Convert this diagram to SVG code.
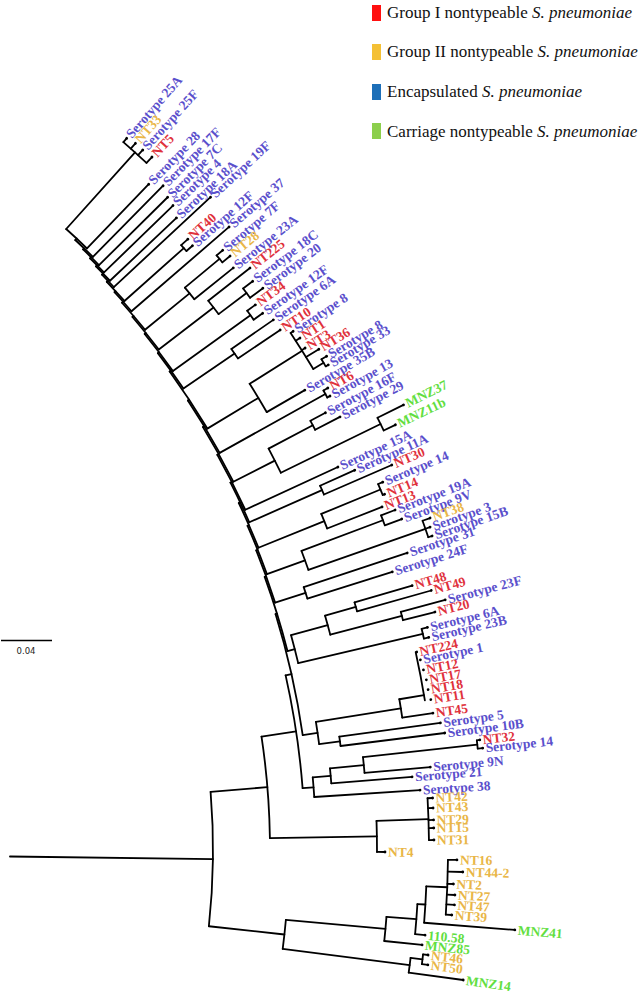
<svg xmlns="http://www.w3.org/2000/svg" width="640" height="993" viewBox="0 0 640 993">
<style>
.leg{font-family:"Liberation Serif","Times New Roman",serif;font-size:17px;fill:#111}
.tips text{font-family:"Liberation Serif","Times New Roman",serif;font-weight:bold;font-size:13.5px}
.tips circle{fill:#000}
.B{fill:#5a4fcc}.R{fill:#e0313c}.Y{fill:#e9b647}.G{fill:#62de40}
</style>
<rect width="640" height="993" fill="#fff"/>
<g id="legend">
<rect x="372" y="5" width="9" height="16" fill="#ff1010"/>
<text class="leg" x="387" y="18">Group I nontypeable <tspan font-style="italic">S. pneumoniae</tspan></text>
<rect x="372" y="44" width="9" height="16" fill="#f4c035"/>
<text class="leg" x="387" y="57">Group II nontypeable <tspan font-style="italic">S. pneumoniae</tspan></text>
<rect x="372" y="84" width="9" height="16" fill="#1d6fb8"/>
<text class="leg" x="387" y="97">Encapsulated <tspan font-style="italic">S. pneumoniae</tspan></text>
<rect x="372" y="123" width="9" height="16" fill="#8ccf4c"/>
<text class="leg" x="387" y="137">Carriage nontypeable <tspan font-style="italic">S. pneumoniae</tspan></text>
</g>
<g id="scale">
<line x1="1" y1="640.5" x2="52" y2="640.5" stroke="#000" stroke-width="1.6"/>
<text x="26" y="654" text-anchor="middle" font-family="DejaVu Sans,sans-serif" font-size="8.5" fill="#222">0.04</text>
</g>
<g transform="translate(-492,850)">
<g id="connectors" fill="none" stroke="#000" stroke-width="1.8" stroke-linecap="round">
<path d="M502 0H705" transform="rotate(0.74)"/>
<circle r="705" stroke-dasharray="134.6 9999" transform="rotate(-4.73)"/>
<path d="M705 0H762" transform="rotate(-4.73)"/>
<circle r="762" stroke-dasharray="101.9 9999" transform="rotate(-8.56)"/>
<path d="M705 0H781" transform="rotate(6.21)"/>
<circle r="781" stroke-dasharray="29.2 9999" transform="rotate(5.14)"/>
<path d="M781 0H881" transform="rotate(5.14)"/>
<circle r="881" stroke-dasharray="24.3 9999" transform="rotate(4.35)"/>
<path d="M881 0H911" transform="rotate(4.35)"/>
<circle r="911" stroke-dasharray="30.2 9999" transform="rotate(3.4)"/>
<path d="M911 0H919" transform="rotate(3.4)"/>
<circle r="919" stroke-dasharray="36.4 9999" transform="rotate(2.27)"/>
<path d="M919 0H940" transform="rotate(2.27)"/>
<circle r="940" stroke-dasharray="54.8 9999" transform="rotate(0.6)"/>
<path d="M940 0H949" transform="rotate(0.6)"/>
<path d="M940 0H955" transform="rotate(1.32)"/>
<path d="M940 0H946" transform="rotate(2.06)"/>
<path d="M940 0H948" transform="rotate(2.72)"/>
<path d="M940 0H948" transform="rotate(3.32)"/>
<path d="M940 0H946" transform="rotate(3.94)"/>
<path d="M919 0H1010" transform="rotate(4.54)"/>
<path d="M911 0H921" transform="rotate(5.3)"/>
<path d="M881 0H919" transform="rotate(5.93)"/>
<path d="M781 0H909" transform="rotate(7.28)"/>
<circle r="909" stroke-dasharray="14.8 9999" transform="rotate(6.82)"/>
<path d="M909 0H921" transform="rotate(6.82)"/>
<circle r="921" stroke-dasharray="9.8 9999" transform="rotate(6.51)"/>
<path d="M921 0H926" transform="rotate(6.51)"/>
<path d="M921 0H927" transform="rotate(7.12)"/>
<path d="M909 0H964" transform="rotate(7.75)"/>
<path d="M762 0H869" transform="rotate(-0.9)"/>
<circle r="869" stroke-dasharray="31.1 9999" transform="rotate(-1.92)"/>
<path d="M869 0H921" transform="rotate(-1.92)"/>
<circle r="921" stroke-dasharray="41.8 9999" transform="rotate(-3.22)"/>
<path d="M921 0H926" transform="rotate(-3.22)"/>
<path d="M921 0H926" transform="rotate(-2.6)"/>
<path d="M921 0H926" transform="rotate(-1.86)"/>
<path d="M921 0H926" transform="rotate(-1.36)"/>
<path d="M921 0H926" transform="rotate(-0.62)"/>
<path d="M869 0H877" transform="rotate(0.13)"/>
<path d="M762 0H797" transform="rotate(-8.56)"/>
<circle r="797" stroke-dasharray="114.2 9999" transform="rotate(-12.66)"/>
<path d="M797 0H808" transform="rotate(-4.45)"/>
<circle r="808" stroke-dasharray="19.6 9999" transform="rotate(-5.15)"/>
<path d="M808 0H826" transform="rotate(-5.15)"/>
<circle r="826" stroke-dasharray="15.1 9999" transform="rotate(-5.67)"/>
<path d="M826 0H860" transform="rotate(-5.67)"/>
<circle r="860" stroke-dasharray="15.9 9999" transform="rotate(-6.2)"/>
<path d="M860 0H975" transform="rotate(-6.2)"/>
<circle r="975" stroke-dasharray="8.3 9999" transform="rotate(-6.46)"/>
<path d="M975 0H978" transform="rotate(-6.46)"/>
<path d="M975 0H980" transform="rotate(-5.97)"/>
<path d="M860 0H926" transform="rotate(-5.14)"/>
<path d="M826 0H907" transform="rotate(-4.62)"/>
<path d="M808 0H914" transform="rotate(-3.76)"/>
<path d="M797 0H803" transform="rotate(-12.66)"/>
<circle r="803" stroke-dasharray="124.2 9999" transform="rotate(-17.09)"/>
<path d="M803 0H818" transform="rotate(-8.23)"/>
<circle r="818" stroke-dasharray="22.4 9999" transform="rotate(-9.01)"/>
<path d="M818 0H904" transform="rotate(-9.01)"/>
<circle r="904" stroke-dasharray="18.6 9999" transform="rotate(-9.6)"/>
<path d="M904 0H929" transform="rotate(-9.6)"/>
<circle r="929" stroke-dasharray="49.1 9999" transform="rotate(-12.29)"/>
<path d="M904 0H935" transform="rotate(-8.42)"/>
<path d="M818 0H839" transform="rotate(-7.44)"/>
<circle r="839" stroke-dasharray="9.4 9999" transform="rotate(-7.76)"/>
<path d="M839 0H941" transform="rotate(-7.76)"/>
<path d="M839 0H944" transform="rotate(-7.12)"/>
<path d="M803 0H804.5" transform="rotate(-17.09)"/>
<circle r="804.5" stroke-dasharray="77.6 9999" transform="rotate(-19.85)"/>
<path d="M804.5 0H812" transform="rotate(-14.32)"/>
<circle r="812" stroke-dasharray="28.9 9999" transform="rotate(-15.34)"/>
<path d="M812 0H850" transform="rotate(-15.34)"/>
<circle r="850" stroke-dasharray="19.7 9999" transform="rotate(-16)"/>
<path d="M850 0H882" transform="rotate(-16)"/>
<circle r="882" stroke-dasharray="9.2 9999" transform="rotate(-16.3)"/>
<path d="M882 0H942" transform="rotate(-16.3)"/>
<path d="M882 0H959" transform="rotate(-15.7)"/>
<path d="M850 0H924" transform="rotate(-14.67)"/>
<circle r="924" stroke-dasharray="8.7 9999" transform="rotate(-14.94)"/>
<path d="M924 0H970" transform="rotate(-14.94)"/>
<path d="M924 0H957" transform="rotate(-14.4)"/>
<path d="M812 0H940" transform="rotate(-13.3)"/>
<circle r="940" stroke-dasharray="10 9999" transform="rotate(-13.61)"/>
<path d="M940 0H946" transform="rotate(-13.61)"/>
<path d="M940 0H945" transform="rotate(-13)"/>
<path d="M804.5 0H806" transform="rotate(-19.85)"/>
<circle r="806" stroke-dasharray="55.6 9999" transform="rotate(-21.82)"/>
<path d="M806 0H838" transform="rotate(-17.87)"/>
<circle r="838" stroke-dasharray="12 9999" transform="rotate(-18.28)"/>
<path d="M838 0H947" transform="rotate(-18.28)"/>
<path d="M838 0H927" transform="rotate(-17.46)"/>
<path d="M806 0H807.5" transform="rotate(-21.82)"/>
<circle r="807.5" stroke-dasharray="52.1 9999" transform="rotate(-23.67)"/>
<path d="M807.5 0H848" transform="rotate(-19.97)"/>
<circle r="848" stroke-dasharray="20.1 9999" transform="rotate(-20.65)"/>
<path d="M848 0H935" transform="rotate(-20.65)"/>
<circle r="935" stroke-dasharray="10.6 9999" transform="rotate(-20.97)"/>
<path d="M935 0H950" transform="rotate(-20.97)"/>
<path d="M935 0H953" transform="rotate(-20.32)"/>
<path d="M848 0H972" transform="rotate(-19.29)"/>
<circle r="972" stroke-dasharray="17.5 9999" transform="rotate(-19.8)"/>
<path d="M972 0H980" transform="rotate(-19.8)"/>
<path d="M972 0H977" transform="rotate(-19.3)"/>
<path d="M972 0H976" transform="rotate(-18.77)"/>
<path d="M807.5 0H809" transform="rotate(-23.67)"/>
<circle r="809" stroke-dasharray="48.9 9999" transform="rotate(-25.4)"/>
<path d="M809 0H880" transform="rotate(-21.94)"/>
<circle r="880" stroke-dasharray="15.7 9999" transform="rotate(-22.45)"/>
<path d="M880 0H944" transform="rotate(-22.45)"/>
<circle r="944" stroke-dasharray="11.9 9999" transform="rotate(-22.81)"/>
<path d="M944 0H949" transform="rotate(-22.81)"/>
<path d="M944 0H946" transform="rotate(-22.09)"/>
<path d="M880 0H939" transform="rotate(-21.43)"/>
<path d="M809 0H810.5" transform="rotate(-25.4)"/>
<circle r="810.5" stroke-dasharray="43.9 9999" transform="rotate(-26.95)"/>
<path d="M810.5 0H890" transform="rotate(-23.85)"/>
<circle r="890" stroke-dasharray="9.6 9999" transform="rotate(-24.16)"/>
<path d="M890 0H928" transform="rotate(-24.16)"/>
<path d="M890 0H964" transform="rotate(-23.54)"/>
<path d="M810.5 0H812" transform="rotate(-26.95)"/>
<circle r="812" stroke-dasharray="61.6 9999" transform="rotate(-29.12)"/>
<path d="M812 0H914" transform="rotate(-24.77)"/>
<path d="M812 0H813.5" transform="rotate(-29.12)"/>
<circle r="813.5" stroke-dasharray="62.5 9999" transform="rotate(-31.32)"/>
<path d="M813.5 0H860" transform="rotate(-26.92)"/>
<circle r="860" stroke-dasharray="27 9999" transform="rotate(-27.82)"/>
<path d="M860 0H910" transform="rotate(-27.82)"/>
<circle r="910" stroke-dasharray="10.2 9999" transform="rotate(-28.14)"/>
<path d="M910 0H927" transform="rotate(-28.14)"/>
<path d="M910 0H938" transform="rotate(-27.5)"/>
<path d="M860 0H971" transform="rotate(-26.02)"/>
<circle r="971" stroke-dasharray="14.1 9999" transform="rotate(-26.43)"/>
<path d="M971 0H1000" transform="rotate(-26.43)"/>
<path d="M971 0H984" transform="rotate(-25.6)"/>
<path d="M813.5 0H815" transform="rotate(-31.32)"/>
<circle r="815" stroke-dasharray="61.3 9999" transform="rotate(-33.47)"/>
<path d="M815 0H936" transform="rotate(-29.16)"/>
<circle r="936" stroke-dasharray="8 9999" transform="rotate(-29.4)"/>
<path d="M936 0H941" transform="rotate(-29.4)"/>
<path d="M936 0H939" transform="rotate(-28.91)"/>
<path d="M815 0H816.5" transform="rotate(-33.47)"/>
<circle r="816.5" stroke-dasharray="68.4 9999" transform="rotate(-35.87)"/>
<path d="M816.5 0H876" transform="rotate(-31.07)"/>
<circle r="876" stroke-dasharray="33 9999" transform="rotate(-32.15)"/>
<path d="M876 0H938" transform="rotate(-32.15)"/>
<circle r="938" stroke-dasharray="42.6 9999" transform="rotate(-33.45)"/>
<path d="M938 0H941" transform="rotate(-33.45)"/>
<path d="M938 0H943" transform="rotate(-32.88)"/>
<path d="M938 0H942" transform="rotate(-32.2)"/>
<path d="M938 0H953" transform="rotate(-31.7)"/>
<path d="M938 0H950" transform="rotate(-30.85)"/>
<circle r="950" stroke-dasharray="8.3 9999" transform="rotate(-31.1)"/>
<path d="M950 0H956" transform="rotate(-31.1)"/>
<path d="M950 0H953" transform="rotate(-30.6)"/>
<path d="M876 0H920" transform="rotate(-29.99)"/>
<path d="M816.5 0H818" transform="rotate(-35.87)"/>
<circle r="818" stroke-dasharray="43.7 9999" transform="rotate(-37.4)"/>
<path d="M818 0H880" transform="rotate(-34.34)"/>
<circle r="880" stroke-dasharray="11.5 9999" transform="rotate(-34.71)"/>
<path d="M880 0H931" transform="rotate(-34.71)"/>
<path d="M880 0H931" transform="rotate(-33.96)"/>
<path d="M818 0H819.5" transform="rotate(-37.4)"/>
<circle r="819.5" stroke-dasharray="46.5 9999" transform="rotate(-39.02)"/>
<path d="M819.5 0H915" transform="rotate(-35.77)"/>
<circle r="915" stroke-dasharray="11 9999" transform="rotate(-36.11)"/>
<path d="M915 0H925" transform="rotate(-36.11)"/>
<path d="M915 0H926" transform="rotate(-35.42)"/>
<path d="M819.5 0H821" transform="rotate(-39.02)"/>
<circle r="821" stroke-dasharray="41.8 9999" transform="rotate(-40.48)"/>
<path d="M821 0H890" transform="rotate(-37.56)"/>
<circle r="890" stroke-dasharray="16.9 9999" transform="rotate(-38.11)"/>
<path d="M890 0H943" transform="rotate(-38.11)"/>
<path d="M890 0H925" transform="rotate(-37.02)"/>
<circle r="925" stroke-dasharray="11.5 9999" transform="rotate(-37.37)"/>
<path d="M925 0H937" transform="rotate(-37.37)"/>
<path d="M925 0H941" transform="rotate(-36.66)"/>
<path d="M821 0H822.5" transform="rotate(-40.48)"/>
<circle r="822.5" stroke-dasharray="35.5 9999" transform="rotate(-41.71)"/>
<path d="M822.5 0H880" transform="rotate(-39.24)"/>
<circle r="880" stroke-dasharray="14.9 9999" transform="rotate(-39.72)"/>
<path d="M880 0H925" transform="rotate(-39.72)"/>
<circle r="925" stroke-dasharray="9 9999" transform="rotate(-40)"/>
<path d="M925 0H933" transform="rotate(-40)"/>
<path d="M925 0H935" transform="rotate(-39.44)"/>
<path d="M880 0H930" transform="rotate(-38.75)"/>
<path d="M822.5 0H824" transform="rotate(-41.71)"/>
<circle r="824" stroke-dasharray="25.5 9999" transform="rotate(-42.6)"/>
<path d="M824 0H953" transform="rotate(-40.83)"/>
<path d="M824 0H825.5" transform="rotate(-42.6)"/>
<circle r="825.5" stroke-dasharray="26.1 9999" transform="rotate(-43.5)"/>
<path d="M825.5 0H905" transform="rotate(-41.69)"/>
<circle r="905" stroke-dasharray="7.9 9999" transform="rotate(-41.94)"/>
<path d="M905 0H914" transform="rotate(-41.94)"/>
<path d="M905 0H913" transform="rotate(-41.44)"/>
<path d="M825.5 0H827" transform="rotate(-43.5)"/>
<circle r="827" stroke-dasharray="17.2 9999" transform="rotate(-44.09)"/>
<path d="M827 0H959" transform="rotate(-42.9)"/>
<path d="M827 0H828.5" transform="rotate(-44.09)"/>
<circle r="828.5" stroke-dasharray="20.1 9999" transform="rotate(-44.79)"/>
<path d="M828.5 0H920" transform="rotate(-43.4)"/>
<path d="M828.5 0H830" transform="rotate(-44.79)"/>
<circle r="830" stroke-dasharray="19.8 9999" transform="rotate(-45.47)"/>
<path d="M830 0H926" transform="rotate(-44.1)"/>
<path d="M830 0H831.5" transform="rotate(-45.47)"/>
<circle r="831.5" stroke-dasharray="22.3 9999" transform="rotate(-46.24)"/>
<path d="M831.5 0H928" transform="rotate(-44.7)"/>
<path d="M831.5 0H833" transform="rotate(-46.24)"/>
<circle r="833" stroke-dasharray="24.4 9999" transform="rotate(-47.08)"/>
<path d="M833 0H933" transform="rotate(-45.4)"/>
<path d="M833 0H835" transform="rotate(-47.08)"/>
<circle r="835" stroke-dasharray="28.4 9999" transform="rotate(-48.05)"/>
<path d="M835 0H938" transform="rotate(-48.05)"/>
<circle r="938" stroke-dasharray="31.1 9999" transform="rotate(-49)"/>
<path d="M938 0H943" transform="rotate(-49)"/>
<path d="M938 0H945" transform="rotate(-48.4)"/>
<path d="M938 0H945" transform="rotate(-47.8)"/>
<path d="M938 0H946" transform="rotate(-47.1)"/>
<path d="M835 0H924" transform="rotate(-46.1)"/>
</g>
<g class="tips">
<g id="t01" transform="rotate(-49)"><circle cx="943" r="1.4"/><text x="946" y="4.6" class="B">Serotype 25A</text></g>
<g id="t02" transform="rotate(-48.4)"><circle cx="945" r="1.4"/><text x="948" y="4.6" class="Y">NT33</text></g>
<g id="t03" transform="rotate(-47.8)"><circle cx="945" r="1.4"/><text x="948" y="4.6" class="B">Serotype 25F</text></g>
<g id="t04" transform="rotate(-47.1)"><circle cx="946" r="1.4"/><text x="949" y="4.6" class="R">NT5</text></g>
<g id="t05" transform="rotate(-46.1)"><circle cx="924" r="1.4"/><text x="927" y="4.6" class="B">Serotype 28</text></g>
<g id="t06" transform="rotate(-45.4)"><circle cx="933" r="1.4"/><text x="936" y="4.6" class="B">Serotype 17F</text></g>
<g id="t07" transform="rotate(-44.7)"><circle cx="928" r="1.4"/><text x="931" y="4.6" class="B">Serotype 7C</text></g>
<g id="t08" transform="rotate(-44.1)"><circle cx="926" r="1.4"/><text x="929" y="4.6" class="B">Serotype 4</text></g>
<g id="t09" transform="rotate(-43.4)"><circle cx="920" r="1.4"/><text x="923" y="4.6" class="B">Serotype 18A</text></g>
<g id="t10" transform="rotate(-42.9)"><circle cx="959" r="1.4"/><text x="962" y="4.6" class="B">Serotype 19F</text></g>
<g id="t11" transform="rotate(-41.94)"><circle cx="914" r="1.4"/><text x="917" y="4.6" class="R">NT40</text></g>
<g id="t12" transform="rotate(-41.44)"><circle cx="913" r="1.4"/><text x="916" y="4.6" class="B">Serotype 12F</text></g>
<g id="t13" transform="rotate(-40.83)"><circle cx="953" r="1.4"/><text x="956" y="4.6" class="B">Serotype 37</text></g>
<g id="t14" transform="rotate(-40)"><circle cx="933" r="1.4"/><text x="936" y="4.6" class="B">Serotype 7F</text></g>
<g id="t15" transform="rotate(-39.44)"><circle cx="935" r="1.4"/><text x="938" y="4.6" class="Y">NT28</text></g>
<g id="t16" transform="rotate(-38.75)"><circle cx="930" r="1.4"/><text x="933" y="4.6" class="B">Serotype 23A</text></g>
<g id="t17" transform="rotate(-38.11)"><circle cx="943" r="1.4"/><text x="946" y="4.6" class="R">NT225</text></g>
<g id="t18" transform="rotate(-37.37)"><circle cx="937" r="1.4"/><text x="940" y="4.6" class="B">Serotype 18C</text></g>
<g id="t19" transform="rotate(-36.66)"><circle cx="941" r="1.4"/><text x="944" y="4.6" class="B">Serotype 20</text></g>
<g id="t20" transform="rotate(-36.11)"><circle cx="925" r="1.4"/><text x="928" y="4.6" class="R">NT34</text></g>
<g id="t21" transform="rotate(-35.42)"><circle cx="926" r="1.4"/><text x="929" y="4.6" class="B">Serotype 12F</text></g>
<g id="t22" transform="rotate(-34.71)"><circle cx="931" r="1.4"/><text x="934" y="4.6" class="B">Serotype 6A</text></g>
<g id="t23" transform="rotate(-33.96)"><circle cx="931" r="1.4"/><text x="934" y="4.6" class="R">NT10</text></g>
<g id="t24" transform="rotate(-33.45)"><circle cx="941" r="1.4"/><text x="944" y="4.6" class="B">Serotype 8</text></g>
<g id="t25" transform="rotate(-32.88)"><circle cx="943" r="1.4"/><text x="946" y="4.6" class="R">NT1</text></g>
<g id="t26" transform="rotate(-32.2)"><circle cx="942" r="1.4"/><text x="945" y="4.6" class="R">NT3</text></g>
<g id="t27" transform="rotate(-31.7)"><circle cx="953" r="1.4"/><text x="956" y="4.6" class="R">NT36</text></g>
<g id="t28" transform="rotate(-31.1)"><circle cx="956" r="1.4"/><text x="959" y="4.6" class="B">Serotype 8</text></g>
<g id="t29" transform="rotate(-30.6)"><circle cx="953" r="1.4"/><text x="956" y="4.6" class="B">Serotype 33</text></g>
<g id="t30" transform="rotate(-29.99)"><circle cx="920" r="1.4"/><text x="923" y="4.6" class="B">Serotype 35B</text></g>
<g id="t31" transform="rotate(-29.4)"><circle cx="941" r="1.4"/><text x="944" y="4.6" class="R">NT6</text></g>
<g id="t32" transform="rotate(-28.91)"><circle cx="939" r="1.4"/><text x="942" y="4.6" class="B">Serotype 13</text></g>
<g id="t33" transform="rotate(-28.14)"><circle cx="927" r="1.4"/><text x="930" y="4.6" class="B">Serotype 16F</text></g>
<g id="t34" transform="rotate(-27.5)"><circle cx="938" r="1.4"/><text x="941" y="4.6" class="B">Serotype 29</text></g>
<g id="t35" transform="rotate(-26.43)"><circle cx="1000" r="1.4"/><text x="1003" y="4.6" class="G">MNZ37</text></g>
<g id="t36" transform="rotate(-25.6)"><circle cx="984" r="1.4"/><text x="987" y="4.6" class="G">MNZ11b</text></g>
<g id="t37" transform="rotate(-24.77)"><circle cx="914" r="1.4"/><text x="917" y="4.6" class="B">Serotype 15A</text></g>
<g id="t38" transform="rotate(-24.16)"><circle cx="928" r="1.4"/><text x="931" y="4.6" class="B">Serotype 11A</text></g>
<g id="t39" transform="rotate(-23.54)"><circle cx="964" r="1.4"/><text x="967" y="4.6" class="R">NT30</text></g>
<g id="t40" transform="rotate(-22.81)"><circle cx="949" r="1.4"/><text x="952" y="4.6" class="B">Serotype 14</text></g>
<g id="t41" transform="rotate(-22.09)"><circle cx="946" r="1.4"/><text x="949" y="4.6" class="R">NT14</text></g>
<g id="t42" transform="rotate(-21.43)"><circle cx="939" r="1.4"/><text x="942" y="4.6" class="R">NT13</text></g>
<g id="t43" transform="rotate(-20.97)"><circle cx="950" r="1.4"/><text x="953" y="4.6" class="B">Serotype 19A</text></g>
<g id="t44" transform="rotate(-20.32)"><circle cx="953" r="1.4"/><text x="956" y="4.6" class="B">Serotype 9V</text></g>
<g id="t45" transform="rotate(-19.8)"><circle cx="980" r="1.4"/><text x="983" y="4.6" class="Y">NT38</text></g>
<g id="t46" transform="rotate(-19.3)"><circle cx="977" r="1.4"/><text x="980" y="4.6" class="B">Serotype 3</text></g>
<g id="t47" transform="rotate(-18.77)"><circle cx="976" r="1.4"/><text x="979" y="4.6" class="B">Serotype 15B</text></g>
<g id="t48" transform="rotate(-18.28)"><circle cx="947" r="1.4"/><text x="950" y="4.6" class="B">Serotype 31</text></g>
<g id="t49" transform="rotate(-17.46)"><circle cx="927" r="1.4"/><text x="930" y="4.6" class="B">Serotype 24F</text></g>
<g id="t50" transform="rotate(-16.3)"><circle cx="942" r="1.4"/><text x="945" y="4.6" class="R">NT48</text></g>
<g id="t51" transform="rotate(-15.7)"><circle cx="959" r="1.4"/><text x="962" y="4.6" class="R">NT49</text></g>
<g id="t52" transform="rotate(-14.94)"><circle cx="970" r="1.4"/><text x="973" y="4.6" class="B">Serotype 23F</text></g>
<g id="t53" transform="rotate(-14.4)"><circle cx="957" r="1.4"/><text x="960" y="4.6" class="R">NT20</text></g>
<g id="t54" transform="rotate(-13.61)"><circle cx="946" r="1.4"/><text x="949" y="4.6" class="B">Serotype 6A</text></g>
<g id="t55" transform="rotate(-13)"><circle cx="945" r="1.4"/><text x="948" y="4.6" class="B">Serotype 23B</text></g>
<g id="t56" transform="rotate(-12.29)"><circle cx="930" r="1.4"/><text x="933" y="4.6" class="R">NT224</text></g>
<g id="t57" transform="rotate(-11.77)"><circle cx="932" r="1.4"/><text x="935" y="4.6" class="B">Serotype 1</text></g>
<g id="t58" transform="rotate(-11.13)"><circle cx="933" r="1.4"/><text x="936" y="4.6" class="R">NT12</text></g>
<g id="t59" transform="rotate(-10.5)"><circle cx="934" r="1.4"/><text x="937" y="4.6" class="R">NT17</text></g>
<g id="t60" transform="rotate(-9.89)"><circle cx="934" r="1.4"/><text x="937" y="4.6" class="R">NT18</text></g>
<g id="t61" transform="rotate(-9.26)"><circle cx="935" r="1.4"/><text x="938" y="4.6" class="R">NT11</text></g>
<g id="t62" transform="rotate(-8.42)"><circle cx="935" r="1.4"/><text x="938" y="4.6" class="R">NT45</text></g>
<g id="t63" transform="rotate(-7.76)"><circle cx="941" r="1.4"/><text x="944" y="4.6" class="B">Serotype 5</text></g>
<g id="t64" transform="rotate(-7.12)"><circle cx="944" r="1.4"/><text x="947" y="4.6" class="B">Serotype 10B</text></g>
<g id="t65" transform="rotate(-6.46)"><circle cx="978" r="1.4"/><text x="981" y="4.6" class="R">NT32</text></g>
<g id="t66" transform="rotate(-5.97)"><circle cx="980" r="1.4"/><text x="983" y="4.6" class="B">Serotype 14</text></g>
<g id="t67" transform="rotate(-5.14)"><circle cx="926" r="1.4"/><text x="929" y="4.6" class="B">Serotype 9N</text></g>
<g id="t68" transform="rotate(-4.62)"><circle cx="907" r="1.4"/><text x="910" y="4.6" class="B">Serotype 21</text></g>
<g id="t69" transform="rotate(-3.76)"><circle cx="914" r="1.4"/><text x="917" y="4.6" class="B">Serotype 38</text></g>
<g id="t70" transform="rotate(-3.22)"><circle cx="926" r="1.4"/><text x="929" y="4.6" class="Y">NT42</text></g>
<g id="t71" transform="rotate(-2.6)"><circle cx="926" r="1.4"/><text x="929" y="4.6" class="Y">NT43</text></g>
<g id="t72" transform="rotate(-1.86)"><circle cx="926" r="1.4"/><text x="929" y="4.6" class="Y">NT29</text></g>
<g id="t73" transform="rotate(-1.36)"><circle cx="926" r="1.4"/><text x="929" y="4.6" class="Y">NT15</text></g>
<g id="t74" transform="rotate(-0.62)"><circle cx="926" r="1.4"/><text x="929" y="4.6" class="Y">NT31</text></g>
<g id="t75" transform="rotate(0.13)"><circle cx="877" r="1.4"/><text x="880" y="4.6" class="Y">NT4</text></g>
<g id="t76" transform="rotate(0.6)"><circle cx="949" r="1.4"/><text x="952" y="4.6" class="Y">NT16</text></g>
<g id="t77" transform="rotate(1.32)"><circle cx="955" r="1.4"/><text x="958" y="4.6" class="Y">NT44-2</text></g>
<g id="t78" transform="rotate(2.06)"><circle cx="946" r="1.4"/><text x="949" y="4.6" class="Y">NT2</text></g>
<g id="t79" transform="rotate(2.72)"><circle cx="948" r="1.4"/><text x="951" y="4.6" class="Y">NT27</text></g>
<g id="t80" transform="rotate(3.32)"><circle cx="948" r="1.4"/><text x="951" y="4.6" class="Y">NT47</text></g>
<g id="t81" transform="rotate(3.94)"><circle cx="946" r="1.4"/><text x="949" y="4.6" class="Y">NT39</text></g>
<g id="t82" transform="rotate(4.54)"><circle cx="1010" r="1.4"/><text x="1013" y="4.6" class="G">MNZ41</text></g>
<g id="t83" transform="rotate(5.3)"><circle cx="921" r="1.4"/><text x="924" y="4.6" class="G">110.58</text></g>
<g id="t84" transform="rotate(5.93)"><circle cx="919" r="1.4"/><text x="922" y="4.6" class="G">MNZ85</text></g>
<g id="t85" transform="rotate(6.51)"><circle cx="926" r="1.4"/><text x="929" y="4.6" class="Y">NT46</text></g>
<g id="t86" transform="rotate(7.12)"><circle cx="927" r="1.4"/><text x="930" y="4.6" class="Y">NT50</text></g>
<g id="t87" transform="rotate(7.75)"><circle cx="964" r="1.4"/><text x="967" y="4.6" class="G">MNZ14</text></g>
</g>
</g>
</svg>
